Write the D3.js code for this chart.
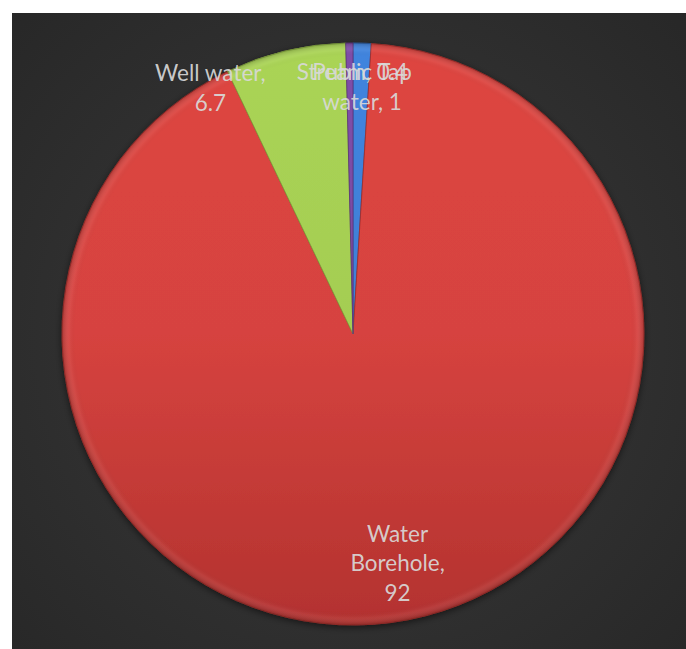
<!DOCTYPE html>
<html>
<head>
<meta charset="utf-8">
<script src="https://cdn.jsdelivr.net/npm/d3@7/dist/d3.min.js"></script>
<style>
  html, body { margin: 0; padding: 0; background: #ffffff; }
  svg { display: block; }
</style>
</head>
<body>
<svg id="chart" width="686" height="649"></svg>
<script>
// Household water sources (percent of respondents)
const categories = ["Public Tap\nwater", "Water\nBorehole", "Well water", "Stream"];
const values = [1, 92, 6.7, 0.4];
// separator placed between the category name and its value in each data label
const labelSeparators = [", ", ",\n", ",\n", ", "];
const sliceColors = ["#3f7fd6", "#d6433f", "#a4cd52", "#7b4ba2"];
const sliceShades = ["#3068b4", "#b3322f", "#8fb443", "#643a88"];

const width = 686, height = 649;
const svg = d3.select("#chart");
const defs = svg.append("defs");

// panel background
const bg = defs.append("radialGradient").attr("id", "bg")
  .attr("gradientUnits", "userSpaceOnUse")
  .attr("cx", 350).attr("cy", 340).attr("r", 480);
bg.append("stop").attr("offset", "0%").attr("stop-color", "#3b3b3b");
bg.append("stop").attr("offset", "100%").attr("stop-color", "#272727");
svg.append("rect").attr("x", 12).attr("y", 13)
  .attr("width", width - 12).attr("height", height - 13)
  .attr("fill", "url(#bg)");

const cx = 353, cy = 334, radius = 291;

// vertical shading for each slice (coordinates local to the pie group)
sliceColors.forEach((c, i) => {
  const g = defs.append("linearGradient").attr("id", "slice" + i)
    .attr("gradientUnits", "userSpaceOnUse")
    .attr("x1", 0).attr("y1", -radius).attr("x2", 0).attr("y2", radius);
  g.append("stop").attr("offset", "0%").attr("stop-color", d3.color(c).brighter(0.1));
  g.append("stop").attr("offset", "50%").attr("stop-color", c);
  g.append("stop").attr("offset", "100%").attr("stop-color", sliceShades[i]);
});

// rim bevel overlay
const rim = defs.append("radialGradient").attr("id", "rim")
  .attr("gradientUnits", "userSpaceOnUse")
  .attr("cx", 0).attr("cy", 0).attr("r", radius);
rim.append("stop").attr("offset", "0%").attr("stop-color", "#000").attr("stop-opacity", 0);
rim.append("stop").attr("offset", "95.5%").attr("stop-color", "#000").attr("stop-opacity", 0);
rim.append("stop").attr("offset", "97.5%").attr("stop-color", "#fff").attr("stop-opacity", 0.05);
rim.append("stop").attr("offset", "100%").attr("stop-color", "#000").attr("stop-opacity", 0.2);

const shadow = defs.append("filter").attr("id", "shadow")
  .attr("x", "-10%").attr("y", "-10%").attr("width", "120%").attr("height", "120%");
shadow.append("feDropShadow").attr("dx", 0).attr("dy", 2)
  .attr("stdDeviation", 3.5).attr("flood-color", "#000").attr("flood-opacity", 0.55);

const pie = d3.pie().sort(null).value(d => d)(values);
const arc = d3.arc().innerRadius(0).outerRadius(radius);

const g = svg.append("g").attr("transform", `translate(${cx},${cy})`);
const slices = g.append("g").attr("filter", "url(#shadow)");
slices.selectAll("path").data(pie).join("path")
  .attr("d", arc)
  .attr("fill", (d, i) => `url(#slice${i})`)
  .attr("stroke", (d, i) => d3.color(sliceShades[i]).darker(0.3))
  .attr("stroke-width", 0.8)
  .attr("stroke-linejoin", "round");
g.append("circle").attr("r", radius).attr("fill", "url(#rim)").attr("pointer-events", "none");

// data labels: radial distance (fraction of radius) and angular nudge per slice
const labelRadius = [0.848, 0.805, 0.975, 0.90];
const labelNudge = [0.3, 0, -16.7, 0.6].map(deg => deg * Math.PI / 180);
const fontSize = 22.5, lineHeight = 29.5;

const labels = g.append("g")
  .attr("font-family", "Lato, 'Open Sans', sans-serif")
  .attr("font-size", fontSize)
  .attr("fill", "#d9d9d9")
  .attr("text-anchor", "middle");

pie.forEach((d, i) => {
  const a = (d.startAngle + d.endAngle) / 2 + labelNudge[i];
  const rr = radius * labelRadius[i];
  const x = Math.sin(a) * rr, y = -Math.cos(a) * rr;
  const lines = (categories[i] + labelSeparators[i] + values[i]).split("\n");
  const t = labels.append("text").attr("fill-opacity", 0.92);
  lines.forEach((ln, k) => {
    t.append("tspan")
      .attr("x", x)
      .attr("y", y + (k - (lines.length - 1) / 2) * lineHeight + fontSize * 0.33)
      .text(ln);
  });
});
</script>
</body>
</html>
